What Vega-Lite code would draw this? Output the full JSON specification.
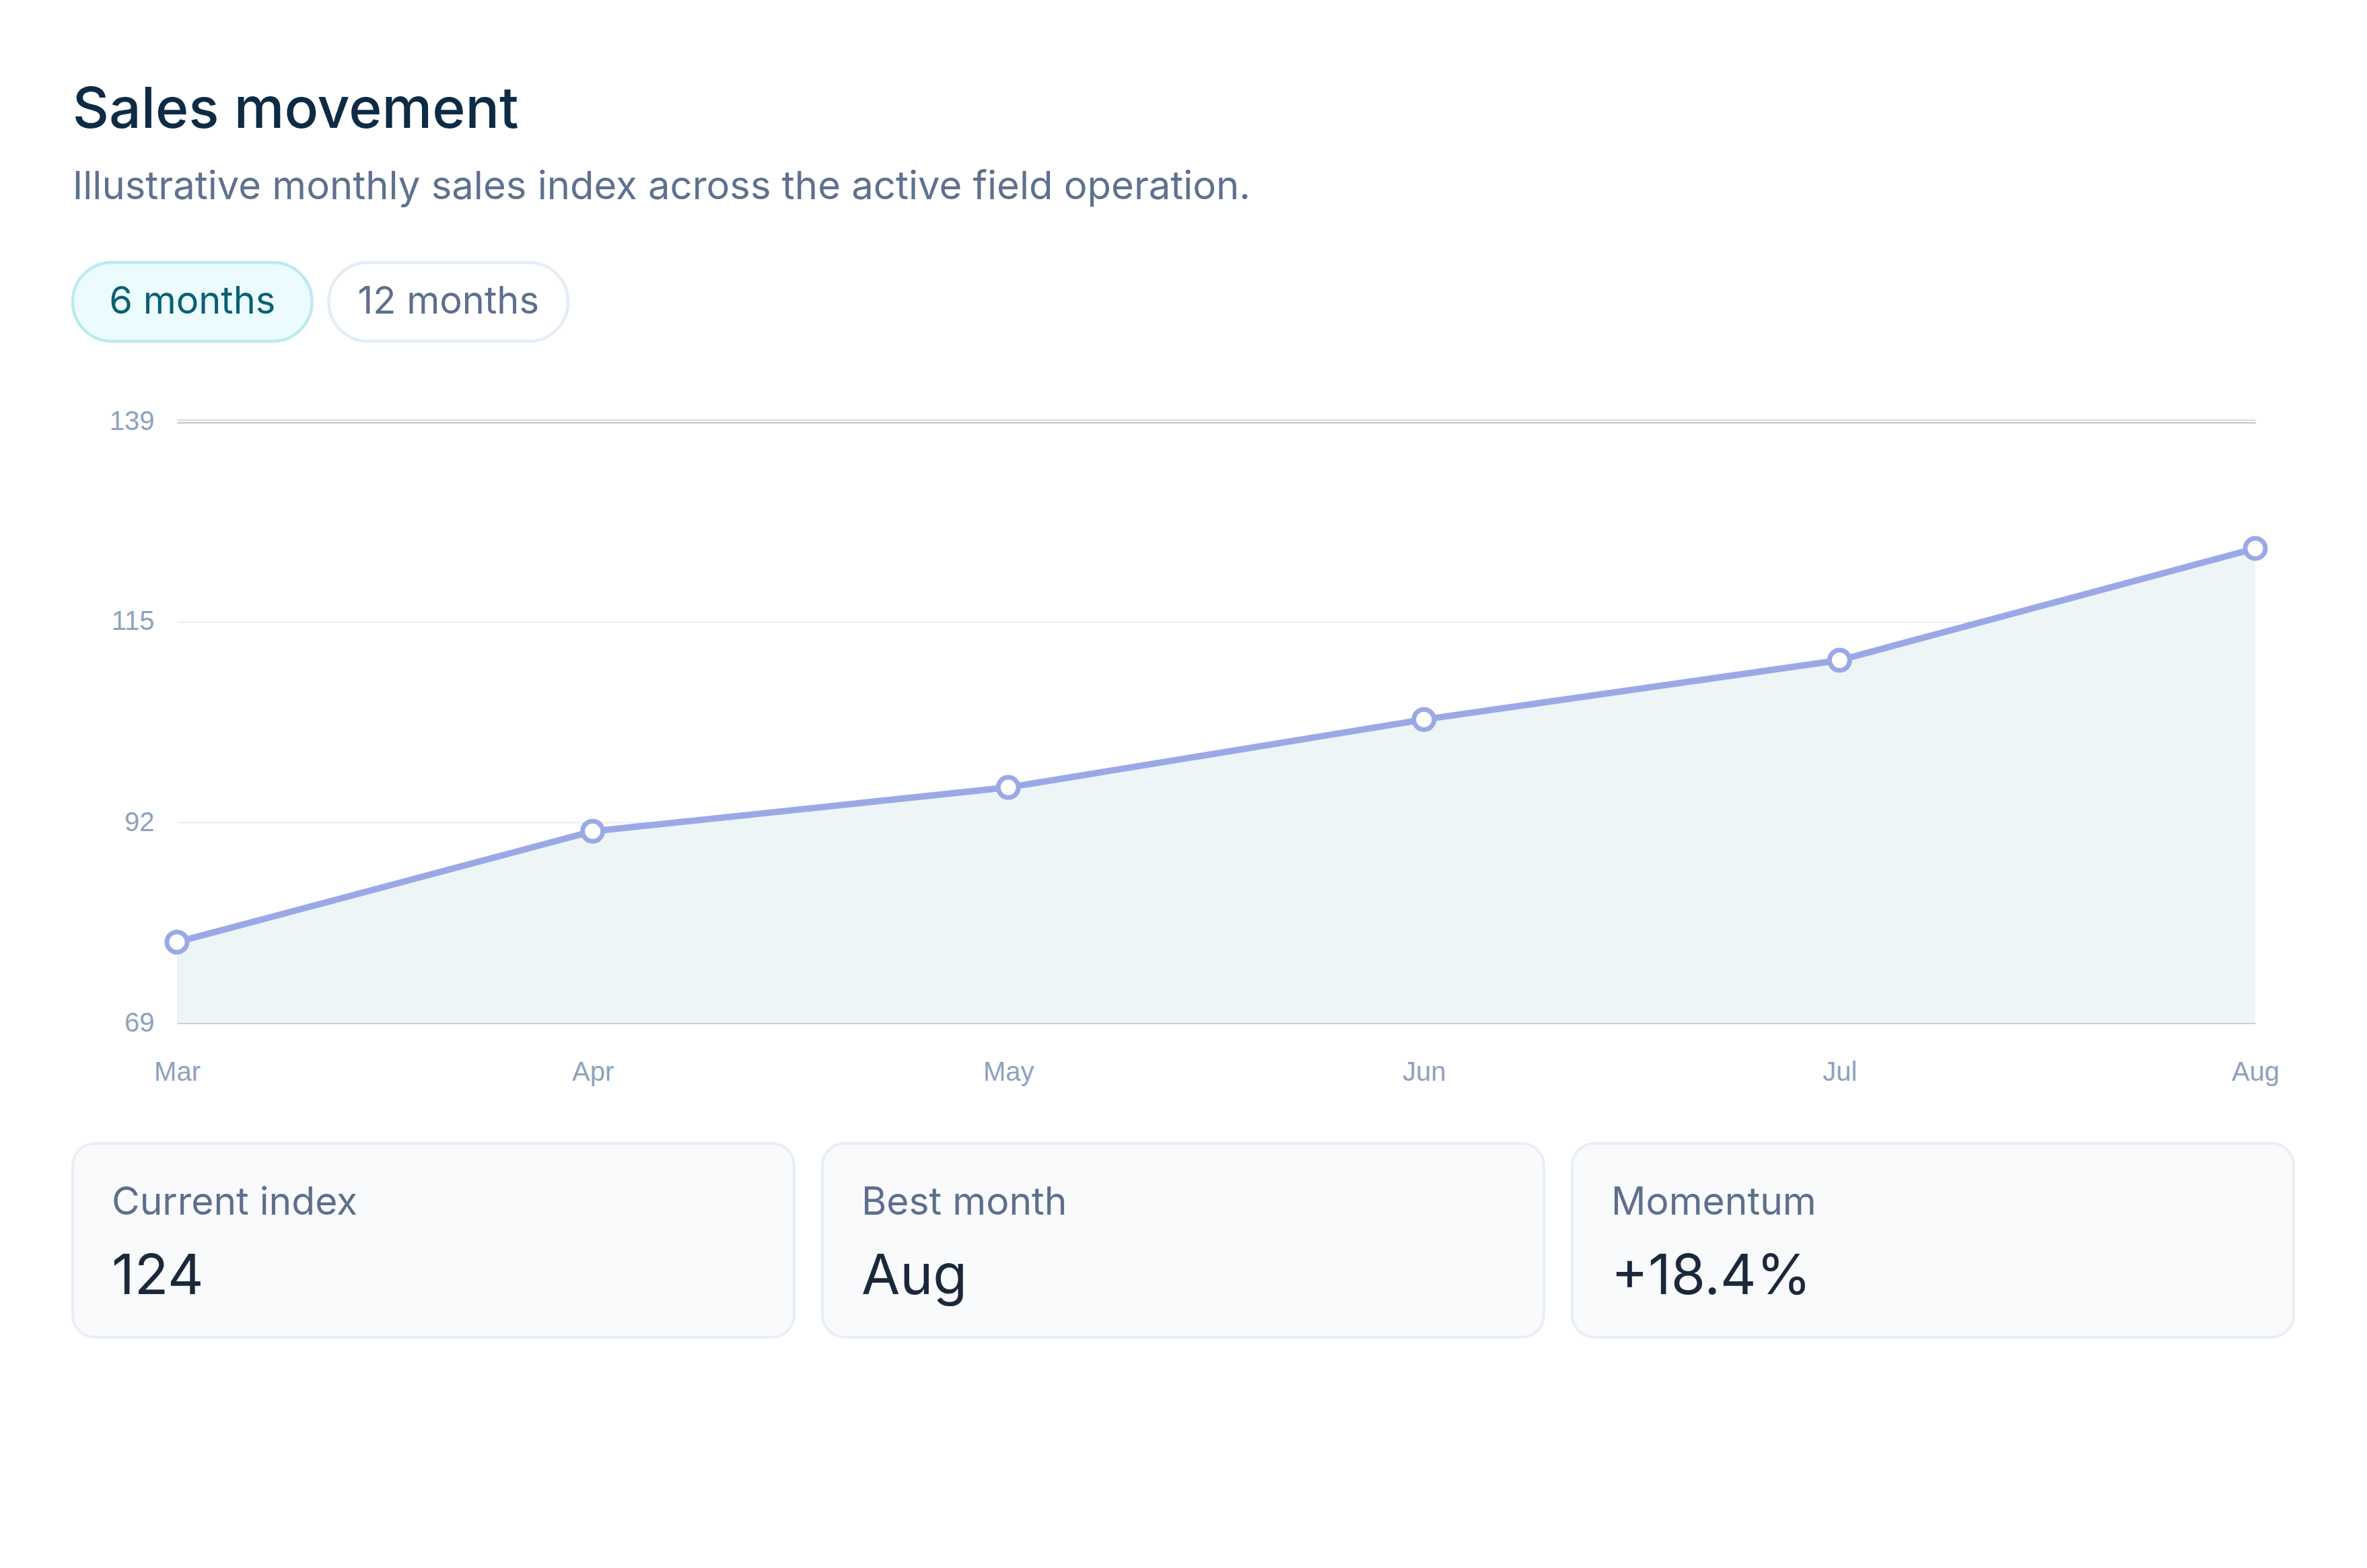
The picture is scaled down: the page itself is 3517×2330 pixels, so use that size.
{
  "$schema": "https://vega.github.io/schema/vega-lite/v6.json",
  "background": "#ffffff",
  "padding": {"left": 105, "top": 122, "right": 0, "bottom": 0},
  "title": {
    "text": "Sales movement",
    "subtitle": "Illustrative monthly sales index across the active field operation.",
    "anchor": "start",
    "dx": 2,
    "font": "Inter",
    "fontSize": 84,
    "fontWeight": 500,
    "color": "#0d2b45",
    "subtitleFont": "Inter",
    "subtitleFontSize": 58,
    "subtitleColor": "#5e718e",
    "subtitlePadding": 42,
    "offset": 79
  },
  "config": {"view": {"stroke": null}, "font": "Inter"},
  "spacing": 96,
  "vconcat": [
    {
      "width": 736,
      "height": 117,
      "data": {"values": [
        {"range": "6 months", "active": "yes"},
        {"range": "12 months", "active": "no"}
      ]},
      "encoding": {
        "x": {"field": "range", "type": "nominal", "sort": null,
              "scale": {"paddingInner": 0.0657, "paddingOuter": 0}, "axis": null}
      },
      "layer": [
        {
          "mark": {"type": "rect", "cornerRadius": 58, "strokeWidth": 4.5},
          "encoding": {
            "fill": {"field": "active", "type": "nominal", "legend": null,
                     "scale": {"domain": ["yes", "no"], "range": ["#ecfcfe", "#ffffff"]}},
            "stroke": {"field": "active", "type": "nominal", "legend": null,
                       "scale": {"domain": ["yes", "no"], "range": ["#bde9ef", "#e3edf7"]}}
          }
        },
        {
          "mark": {"type": "text", "font": "Inter", "fontSize": 56},
          "encoding": {
            "text": {"field": "range"},
            "color": {"field": "active", "type": "nominal", "legend": null,
                      "scale": {"domain": ["yes", "no"], "range": ["#0b5f73", "#5c6f8c"]}}
          }
        }
      ]
    },
    {
      "spacing": 84,
      "vconcat": [
        {
          "width": 3243,
          "height": 894,
          "data": {"values": [
            {"month": "Mar", "index": 78.4},
            {"month": "Apr", "index": 91.3},
            {"month": "May", "index": 96.4},
            {"month": "Jun", "index": 104.3},
            {"month": "Jul", "index": 111.2},
            {"month": "Aug", "index": 124.2}
          ]},
          "layer": [
            {
              "mark": {"type": "area", "color": "#edf5f7", "opacity": 1},
              "encoding": {
                "x": {
                  "field": "month", "type": "ordinal", "sort": null,
                  "scale": {"type": "point", "padding": 0, "range": [155, 3243]},
                  "axis": {
                    "title": null, "ticks": false, "grid": false, "labelAngle": 0,
                    "domainColor": "#c9cdd2", "domainWidth": 2.5,
                    "labelPadding": 53, "labelFont": "Liberation Sans",
                    "labelFontSize": 40, "labelColor": "#8ea2bd"
                  }
                },
                "y": {
                  "field": "index", "type": "quantitative",
                  "scale": {"domain": [69, 139], "nice": false, "zero": false},
                  "axis": {
                    "title": null, "domain": false, "ticks": false, "offset": -155,
                    "values": [69, 92.3333, 115.6667, 139],
                    "labelExpr": "floor(datum.value)",
                    "labelPadding": 34, "labelFont": "Liberation Sans",
                    "labelFontSize": 40, "labelColor": "#8ea2bd",
                    "gridColor": {"condition": {"test": "datum.value > 130", "value": "#c9ccd1"}, "value": "#e9eef3"},
                    "gridWidth": {"condition": {"test": "datum.value > 130", "value": 6}, "value": 2}
                  }
                },
                "y2": {"datum": 69}
              }
            },
            {
              "data": {"values": [{"edge": "top"}]},
              "mark": {"type": "rule", "color": "#ffffff", "strokeWidth": 2},
              "encoding": {
                "x": {"datum": "Mar", "type": "ordinal"},
                "x2": {"datum": "Aug"},
                "y": {"datum": 139}
              }
            },
            {
              "mark": {"type": "line", "color": "#9aa9e6", "strokeWidth": 9.5},
              "encoding": {
                "x": {"field": "month", "type": "ordinal", "sort": null},
                "y": {"field": "index", "type": "quantitative"}
              }
            },
            {
              "mark": {"type": "point", "filled": true, "fill": "#ffffff", "stroke": "#9aa9e6",
                       "strokeWidth": 7, "size": 900, "opacity": 1},
              "encoding": {
                "x": {"field": "month", "type": "ordinal", "sort": null},
                "y": {"field": "index", "type": "quantitative"}
              }
            }
          ]
        },
        {
          "width": 3300,
          "height": 288,
          "data": {"values": [
            {"metric": "Current index", "value": "124"},
            {"metric": "Best month", "value": "Aug"},
            {"metric": "Momentum", "value": "+18.4%"}
          ]},
          "encoding": {
            "x": {"field": "metric", "type": "nominal", "sort": null,
                  "scale": {"paddingInner": 0.0377, "paddingOuter": 0}, "axis": null}
          },
          "layer": [
            {
              "mark": {"type": "rect", "fill": "#f8fafc", "stroke": "#e8eef4",
                       "strokeWidth": 4, "cornerRadius": 33}
            },
            {
              "mark": {"type": "text", "align": "left", "baseline": "alphabetic",
                       "dx": 58, "dy": -38, "font": "Inter", "fontSize": 57, "color": "#5d6f8b"},
              "encoding": {
                "x": {"field": "metric", "type": "nominal", "sort": null, "bandPosition": 0},
                "text": {"field": "metric"}
              }
            },
            {
              "mark": {"type": "text", "align": "left", "baseline": "alphabetic",
                       "dx": 58, "dy": 80, "font": "Inter", "fontSize": 83, "color": "#1b273a"},
              "encoding": {
                "x": {"field": "metric", "type": "nominal", "sort": null, "bandPosition": 0},
                "text": {"field": "value"}
              }
            }
          ]
        }
      ]
    }
  ]
}
